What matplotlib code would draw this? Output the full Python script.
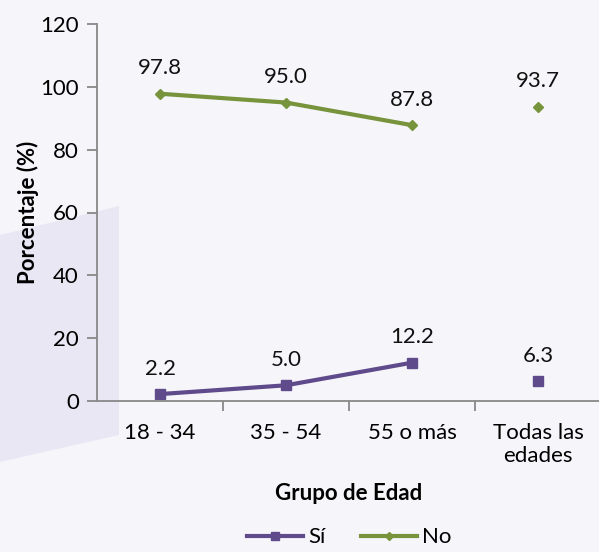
import numpy as np
import matplotlib.pyplot as plt
from matplotlib.patches import Polygon

categories = ["18 - 34", "35 - 54", "55 o más", "Todas las\nedades"]
si_values = [2.2, 5.0, 12.2, 6.3]
no_values = [97.8, 95.0, 87.8, 93.7]

purple = "#5f4a8b"
green = "#77933c"
bg = "#f6f6fa"

plt.rcParams['font.family'] = ['Lato', 'DejaVu Sans']

W, H = 599, 552
fig = plt.figure(figsize=(W / 100, H / 100), dpi=100, facecolor=bg)

# light shape on the left side of the background
shape = Polygon([(0, 1 - 235 / H), (119 / W, 1 - 206 / H), (119 / W, 1 - 435 / H), (0, 1 - 462 / H)],
                closed=True, transform=fig.transFigure, facecolor="#e9e7f3", edgecolor="none", zorder=-5)
fig.patches.append(shape)

ax = fig.add_axes([97 / W, 1 - 401 / H, 504 / W, 377 / H])
ax.set_facecolor("none")
ax.set_zorder(2)

x = np.arange(len(categories))

# connected age groups, "Todas las edades" stands alone
ax.plot(x[:3], si_values[:3], color=purple, lw=3, marker="s", ms=7, label="Sí", clip_on=False)
ax.plot(x[3:], si_values[3:], color=purple, lw=3, marker="s", ms=7, clip_on=False)
ax.plot(x[:3], no_values[:3], color=green, lw=3, marker="D", ms=5, label="No", clip_on=False)
ax.plot(x[3:], no_values[3:], color=green, lw=3, marker="D", ms=5, clip_on=False)

for xi, v in zip(x, si_values):
    ax.annotate(f"{v:.1f}", (xi, v), xytext=(0, 11), textcoords="offset points",
                ha="center", va="bottom", fontsize=16, color="#111111")
for xi, v in zip(x, no_values):
    ax.annotate(f"{v:.1f}", (xi, v), xytext=(0, 11), textcoords="offset points",
                ha="center", va="bottom", fontsize=16, color="#111111")

ax.set_xlim(-0.5, 3.5)
ax.set_ylim(0, 120)
ax.set_yticks(range(0, 121, 20))
ax.set_xticks(x)
ax.set_xticklabels(categories)
ax.set_xticks([0.5, 1.5, 2.5, 3.5], minor=True)
ax.tick_params(axis="x", which="major", length=0, pad=16, labelsize=16)
ax.tick_params(axis="x", which="minor", length=7, width=1.3, color="#888888")
ax.tick_params(axis="y", length=7, width=1.3, color="#888888", pad=6, labelsize=16)

for s in ["top", "right"]:
    ax.spines[s].set_visible(False)
for s in ["left", "bottom"]:
    ax.spines[s].set_color("#888888")
    ax.spines[s].set_linewidth(1.3)

ax.set_ylabel("Porcentaje (%)", fontsize=16, fontweight="bold", labelpad=1)
ax.set_xlabel("Grupo de Edad", fontsize=16, fontweight="bold", labelpad=12)

leg = fig.legend(loc="lower center", bbox_to_anchor=(0.583, -0.028), ncol=2, frameon=False,
                 fontsize=16, handlelength=2.5, columnspacing=1.6, handletextpad=0.25,
                 markerscale=0.8)

fig.savefig("out.png", dpi=100, facecolor=bg)
